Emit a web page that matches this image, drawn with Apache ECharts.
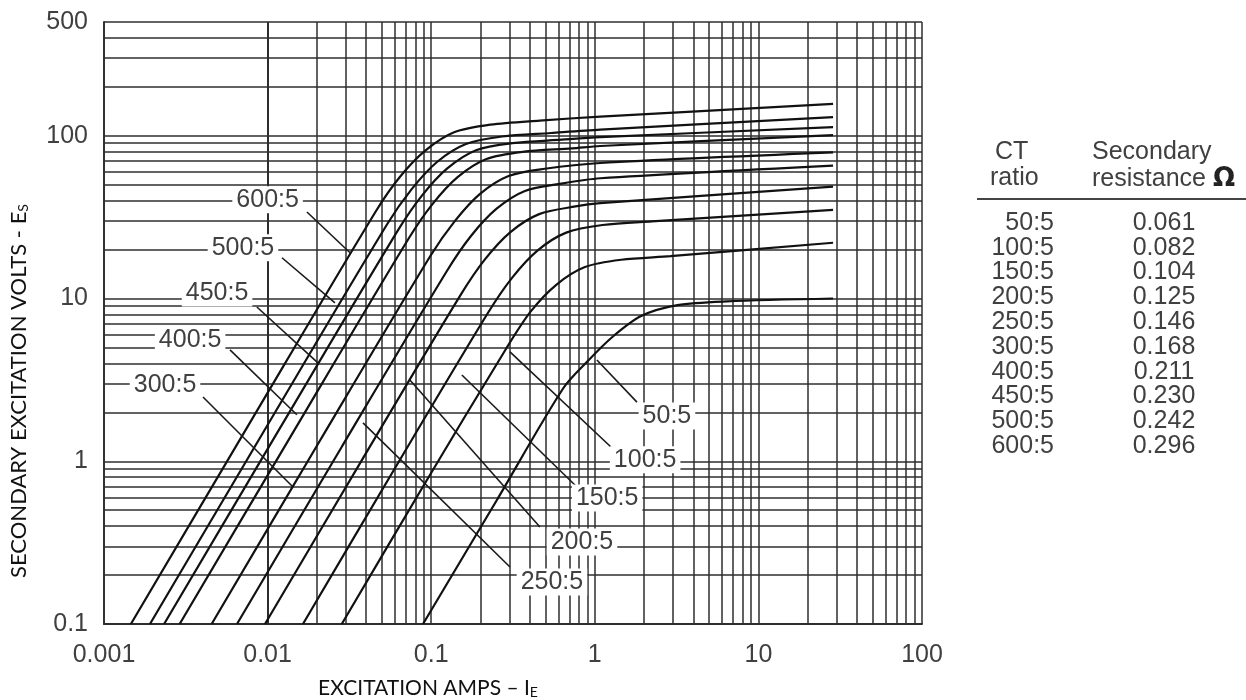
<!DOCTYPE html>
<html>
<head>
<meta charset="utf-8">
<script src="https://cdn.jsdelivr.net/npm/echarts@6/dist/echarts.min.js"></script>
<style>
  html, body { margin: 0; padding: 0; background: #fff; }
  #main { width: 1246px; height: 700px; }
</style>
</head>
<body>
<div id="main"></div>
<script>
// table on the right
var ratios = ['50:5', '100:5', '150:5', '200:5', '250:5', '300:5', '400:5', '450:5', '500:5', '600:5'];
var resistance = [0.061, 0.082, 0.104, 0.125, 0.146, 0.168, 0.211, 0.230, 0.242, 0.296];

// axis labels
var xTicks = [0.001, 0.01, 0.1, 1, 10, 100];
var yTicks = [0.1, 1, 10, 100, 500];
var gridMult = [1, 2, 3, 4, 5, 6, 7, 8, 9];

// excitation curves [amps, volts]
var c600 = [[0.00146, 0.1], [0.00815, 1.86], [0.046, 34.5], [0.0645, 56], [0.092, 81], [0.138, 105], [0.23, 117], [0.46, 124], [1.08, 131], [28.6, 157]];
var c500 = [[0.00191, 0.1], [0.0101, 1.7], [0.054, 28.8], [0.076, 47], [0.1085, 69], [0.163, 89], [0.271, 99], [0.54, 104], [1.08, 109], [28.6, 130]];
var c450 = [[0.00233, 0.1], [0.012, 1.62], [0.0627, 26.3], [0.0878, 42.9], [0.1254, 63], [0.188, 81.5], [0.3135, 90], [0.627, 94.6], [1.08, 98], [28.6, 113]];
var c400 = [[0.0029, 0.1], [0.0144, 1.52], [0.0725, 23.2], [0.1015, 37.9], [0.145, 55.7], [0.2175, 72], [0.3625, 79.7], [0.725, 83.6], [1.08, 86.5], [28.6, 101]];
var c300 = [[0.00455, 0.1], [0.021, 1.35], [0.099, 18.3], [0.139, 29.8], [0.198, 43.8], [0.297, 56.6], [0.495, 62.7], [1.08, 68], [28.6, 79]];
var c250 = [[0.0065, 0.1], [0.0283, 1.22], [0.125, 14.8], [0.175, 24.2], [0.25, 35.5], [0.374, 45.8], [0.624, 50.8], [1.08, 54.8], [28.6, 65.6]];
var c200 = [[0.00964, 0.1], [0.038, 1.03], [0.152, 10.6], [0.213, 17.4], [0.305, 25.6], [0.457, 33], [0.762, 36.8], [1.08, 38.5], [28.6, 48.7]];
var c150 = [[0.01645, 0.1], [0.06, 0.906], [0.223, 8.2], [0.312, 13.4], [0.446, 19.7], [0.669, 25.4], [1.115, 28.3], [2.23, 29.8], [28.6, 35]];
var c100 = [[0.0284, 0.1], [0.0897, 0.707], [0.29, 5.0], [0.405, 8.3], [0.579, 12.1], [0.87, 15.6], [1.45, 17.3], [2.9, 18.2], [28.6, 22]];
var c50 = [[0.0891, 0.1], [0.25, 0.57], [0.64, 2.8], [0.9, 4.1], [1.28, 5.8], [1.92, 7.8], [3.2, 9.1], [6.4, 9.6], [28.6, 10]];

// curve labels: name, label centre, leader start, leader end (amps, volts)
var tags = [
  ['600:5', [0.0100, 40.4], [0.0174, 34.0], [0.0319, 19.1]],
  ['500:5', [0.00707, 20.5], [0.01225, 17.8], [0.0258, 9.4]],
  ['450:5', [0.00491, 10.8], [0.0086, 8.87], [0.0203, 4.02]],
  ['400:5', [0.00336, 5.57], [0.00589, 4.83], [0.0151, 1.93]],
  ['300:5', [0.00236, 2.94], [0.00403, 2.48], [0.0143, 0.695]],
  ['50:5', [2.76, 1.90], [1.81, 2.31], [1.03, 4.19]],
  ['100:5', [2.03, 1.02], [1.27, 1.21], [0.303, 4.70]],
  ['150:5', [1.19, 0.595], [0.778, 0.695], [0.154, 3.39]],
  ['200:5', [0.835, 0.319], [0.462, 0.394], [0.0741, 3.16]],
  ['250:5', [0.547, 0.181], [0.303, 0.224], [0.0383, 1.72]]
];

var curves = [
  ['600:5', c600], ['500:5', c500], ['450:5', c450], ['400:5', c400],
  ['300:5', c300], ['250:5', c250], ['200:5', c200], ['150:5', c150], ['100:5', c100], ['50:5', c50]
];

var numFont = 'Liberation Sans, Arial, sans-serif';
var txtColor = '#404040';

function fmt(v) { return String(+v.toPrecision(6)); }

// log grid lines
var xGrid = [], yGrid = [];
[-3, -2, -1, 0, 1].forEach(function (d) {
  gridMult.forEach(function (m) { xGrid.push(+(m * Math.pow(10, d)).toPrecision(6)); });
});
xGrid.push(100);
[-1, 0, 1].forEach(function (d) {
  gridMult.forEach(function (m) { yGrid.push(+(m * Math.pow(10, d)).toPrecision(6)); });
});
yGrid.push(100, 200, 300, 400, 500);

var series = [{
  name: 'grid',
  type: 'line',
  data: [[0.001, 0.1]],
  symbol: 'none',
  silent: true,
  z: 1,
  markLine: {
    silent: true,
    symbol: ['none', 'none'],
    z: 1,
    label: { show: false },
    lineStyle: { color: '#2e2e2e', width: 1.5, type: 'solid' },
    data: xGrid.map(function (v) { return { xAxis: v }; })
      .concat(yGrid.map(function (v) { return { yAxis: v }; }))
  }
}];

curves.forEach(function (c) {
  var tag = null;
  tags.forEach(function (t) { if (t[0] === c[0]) tag = t; });
  var s = {
    name: c[0],
    type: 'line',
    data: c[1],
    smooth: 0.3,
    symbol: 'none',
    z: 2,
    lineStyle: { color: '#111', width: 2.2 }
  };
  if (tag) {
    s.markLine = {
      silent: true,
      symbol: ['none', 'none'],
      z: 3,
      label: { show: false },
      lineStyle: { color: '#1a1a1a', width: 1.6, type: 'solid' },
      data: [[{ coord: tag[2] }, { coord: tag[3] }]]
    };
    s.markPoint = {
      silent: true,
      z: 4,
      symbol: 'rect',
      symbolSize: 1,
      itemStyle: { color: 'rgba(0,0,0,0)' },
      label: {
        show: true,
        position: 'inside',
        formatter: tag[0],
        color: txtColor,
        fontFamily: numFont,
        fontSize: 25,
        backgroundColor: '#fff',
        padding: [1, 4, 1, 4]
      },
      data: [{ coord: tag[1] }]
    };
  }
  series.push(s);
});

// table as graphic text
var graphics = [
  { type: 'text', left: 995, top: 140, style: { text: 'CT', font: '25px ' + numFont, fill: txtColor } },
  { type: 'text', left: 990, top: 166, style: { text: 'ratio', font: '25px ' + numFont, fill: txtColor } },
  { type: 'text', left: 1092, top: 140, style: { text: 'Secondary', font: '25px ' + numFont, fill: txtColor } },
  { type: 'text', left: 1092, top: 166, style: {
      text: 'resistance {b|Ω}', font: '25px ' + numFont, fill: txtColor,
      rich: { b: { fontWeight: 'bold', fontSize: 26, fill: '#222', fontFamily: 'DejaVu Sans' } }
  } },
  { type: 'line', shape: { x1: 977, y1: 199, x2: 1246, y2: 199 }, style: { stroke: '#444', lineWidth: 2 } }
];
ratios.forEach(function (r, i) {
  var y = 223 + i * 24.8;
  graphics.push({ type: 'text', x: 1054, y: y, style: { text: r, font: '25px ' + numFont, fill: txtColor, textAlign: 'right', textVerticalAlign: 'middle' } });
  graphics.push({ type: 'text', x: 1164, y: y, style: { text: resistance[i].toFixed(3), font: '25px ' + numFont, fill: txtColor, textAlign: 'center', textVerticalAlign: 'middle' } });
});

var option = {
  animation: false,
  backgroundColor: '#fff',
  grid: { left: 104, right: 324, top: 22, bottom: 76, containLabel: false, outerBoundsMode: 'none' },
  xAxis: {
    type: 'log',
    logBase: 10,
    min: 0.001,
    max: 100,
    name: 'EXCITATION AMPS – I{s|E}',
    nameLocation: 'middle',
    nameGap: 53,
    nameTextStyle: {
      fontFamily: 'Lato, sans-serif', fontSize: 21, color: '#111',
      padding: [0, 170, 0, 0],
      rich: { s: { fontFamily: 'Lato, sans-serif', fontSize: 14, color: '#111', verticalAlign: 'bottom', padding: [8, 0, 0, 0] } }
    },
    axisLine: { show: true, lineStyle: { color: '#333', width: 2 } },
    axisTick: { show: false },
    splitLine: { show: false },
    axisLabel: {
      customValues: xTicks,
      margin: 19,
      fontFamily: numFont,
      fontSize: 25,
      color: txtColor,
      formatter: fmt
    }
  },
  yAxis: {
    type: 'log',
    logBase: 10,
    min: 0.1,
    max: 500,
    name: 'SECONDARY EXCITATION VOLTS - E{s|S}',
    nameLocation: 'middle',
    nameGap: 74,
    nameTextStyle: {
      fontFamily: 'Lato, sans-serif', fontSize: 22, color: '#111',
      padding: [0, 136, 0, 0],
      rich: { s: { fontFamily: 'Lato, sans-serif', fontSize: 14, color: '#111', verticalAlign: 'bottom', padding: [8, 0, 0, 0] } }
    },
    axisLine: { show: true, lineStyle: { color: '#333', width: 2 } },
    axisTick: { show: false },
    splitLine: { show: false },
    axisLabel: {
      customValues: yTicks,
      margin: 16,
      fontFamily: numFont,
      fontSize: 25,
      color: txtColor,
      formatter: fmt
    }
  },
  graphic: graphics,
  series: series
};

var myChart = echarts.init(document.getElementById('main'));
myChart.setOption(option);
</script>
</body>
</html>
